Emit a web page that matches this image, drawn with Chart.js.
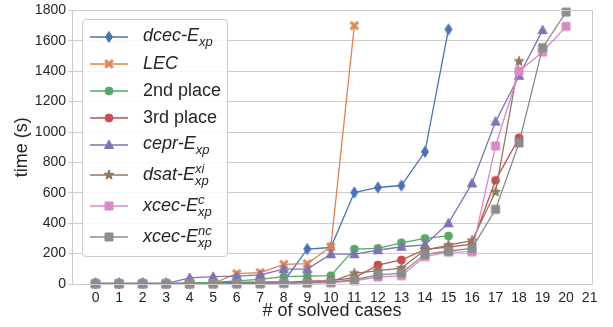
<!DOCTYPE html>
<html>
<head>
<meta charset="utf-8">
<script src="https://cdn.jsdelivr.net/npm/chart.js"></script>
<style>
  body { margin: 0; background: #fff; }
  #wrap { position: relative; width: 613px; height: 327px; font-family: 'Liberation Sans', Arial, sans-serif; }
  #legend {
    position: absolute; left: 82px; top: 19px; width: 146px; height: 238px;
    border: 1px solid #cccccc; border-radius: 4px; background: rgba(255,255,255,0.85);
    box-sizing: border-box; padding-top: 3px; color: #262626;
  }
  .row { display: flex; align-items: center; height: 27px; }
  .row.sub { height: 28px; }
  .row.stk { height: 31px; }
  .row canvas { margin-left: 6px; margin-right: 14px; }
  .lbl { font-size: 18px; white-space: nowrap; }
  .it { font-style: italic; }
  .sb { font-size: 13px; font-style: italic; vertical-align: -5px; }
  .ss { display: inline-block; font-size: 13px; font-style: italic; line-height: 12px; vertical-align: -5px; }
  .ss span { display: block; }
</style>
</head>
<body>
<div id="wrap">
  <canvas id="chart" width="613" height="327"></canvas>
  <div id="legend"></div>
</div>
<script>
// x = number of solved cases (index), values = time in seconds
const xTicks = [0,1,2,3,4,5,6,7,8,9,10,11,12,13,14,15,16,17,18,19,20,21];
const yTicks = [0,200,400,600,800,1000,1200,1400,1600,1800];

const dcec   = [5,5,5,5,5,8,10,12,15,230,240,602,635,648,870,1675];
const lec    = [2,2,2,2,3,4,68,75,129,134,245,1700];
const second = [1,1,1,1,8,10,20,30,48,52,55,230,235,271,300,316];
const third  = [0,0,0,0,0,1,3,5,10,18,22,40,125,158,228,242,262,682,962];
const cepr   = [2,2,2,2,40,48,52,60,98,98,196,196,222,245,258,400,662,1068,1370,1670];
const dsat   = [0,0,0,0,0,1,3,5,8,12,15,70,88,105,223,256,285,606,1465];
const xcecC  = [0,0,0,0,0,0,1,2,4,6,8,20,46,55,180,210,212,908,1400,1526,1695];
const xcecNc = [3,3,3,3,3,3,3,4,6,9,12,28,60,72,195,217,234,491,928,1555,1789];

const series = [
  { data: dcec,   color: '#4C72B0', shape: 'diamond',  kind: '',    html: '<span class="it">dcec-E</span><span class="sb">xp</span>' },
  { data: lec,    color: '#DD8452', shape: 'x',        kind: '',    html: '<span class="it">LEC</span>' },
  { data: second, color: '#55A868', shape: 'circle',   kind: '',    html: '2nd place' },
  { data: third,  color: '#C44E52', shape: 'circle',   kind: '',    html: '3rd place' },
  { data: cepr,   color: '#8172B3', shape: 'triangle', kind: 'sub', html: '<span class="it">cepr-E</span><span class="sb">xp</span>' },
  { data: dsat,   color: '#937860', shape: 'star',     kind: 'stk', html: '<span class="it">dsat-E</span><span class="ss"><span>xi</span><span>xp</span></span>' },
  { data: xcecC,  color: '#DA8BC3', shape: 'square',   kind: 'stk', html: '<span class="it">xcec-E</span><span class="ss"><span>c</span><span>xp</span></span>' },
  { data: xcecNc, color: '#8C8C8C', shape: 'square',   kind: 'stk', html: '<span class="it">xcec-E</span><span class="ss"><span>nc</span><span>xp</span></span>' }
];

function drawMarker(c, shape, x, y, color) {
  c.save();
  c.fillStyle = color;
  c.strokeStyle = color;
  c.lineWidth = 1;
  c.beginPath();
  if (shape === 'diamond') {
    c.moveTo(x, y - 5.5); c.lineTo(x + 3.5, y); c.lineTo(x, y + 5.5); c.lineTo(x - 3.5, y);
  } else if (shape === 'circle') {
    c.arc(x, y, 4, 0, Math.PI * 2);
  } else if (shape === 'triangle') {
    c.moveTo(x, y - 5); c.lineTo(x + 4.6, y + 3.5); c.lineTo(x - 4.6, y + 3.5);
  } else if (shape === 'square') {
    c.rect(x - 4, y - 4, 8, 8);
  } else if (shape === 'x') {
    const a = 4.3, w = 1.6;
    const pts = [[-a + w, -a], [0, -w], [a - w, -a], [a, -a + w], [w, 0], [a, a - w],
                 [a - w, a], [0, w], [-a + w, a], [-a, a - w], [-w, 0], [-a, -a + w]];
    pts.forEach((p, i) => i ? c.lineTo(x + p[0], y + p[1]) : c.moveTo(x + p[0], y + p[1]));
  } else if (shape === 'star') {
    for (let i = 0; i < 10; i++) {
      const r = i % 2 ? 2.2 : 5.2;
      const ang = -Math.PI / 2 + i * Math.PI / 5;
      const px = x + r * Math.cos(ang), py = y + r * Math.sin(ang);
      i ? c.lineTo(px, py) : c.moveTo(px, py);
    }
  }
  c.closePath();
  c.fill();
  c.stroke();
  c.restore();
}

function markerCanvas(shape, color) {
  const cv = document.createElement('canvas');
  cv.width = 16; cv.height = 16;
  drawMarker(cv.getContext('2d'), shape, 8, 8, color);
  return cv;
}

// legend (html, so the sub/superscripts stay real text)
const legendEl = document.getElementById('legend');
series.forEach(s => {
  const row = document.createElement('div');
  row.className = 'row ' + s.kind;
  const cv = document.createElement('canvas');
  cv.width = 40; cv.height = 16;
  const c = cv.getContext('2d');
  c.strokeStyle = s.color; c.lineWidth = 1.3;
  c.beginPath(); c.moveTo(1, 8); c.lineTo(39, 8); c.stroke();
  drawMarker(c, s.shape, 20, 8, s.color);
  const lbl = document.createElement('span');
  lbl.className = 'lbl';
  lbl.innerHTML = s.html;
  row.appendChild(cv);
  row.appendChild(lbl);
  legendEl.appendChild(row);
});

const frame = {
  id: 'frame',
  afterDraw(chart) {
    const a = chart.chartArea, c = chart.ctx;
    c.save();
    c.strokeStyle = '#cccccc';
    c.lineWidth = 1;
    c.strokeRect(Math.round(a.left) + 0.5, Math.round(a.top) + 0.5, Math.round(a.right - a.left), Math.round(a.bottom - a.top));
    c.restore();
  }
};

Chart.defaults.font.family = "'Liberation Sans', Arial, sans-serif";
Chart.defaults.color = '#262626';

new Chart(document.getElementById('chart'), {
  type: 'line',
  data: {
    datasets: series.map((s, i) => ({
      data: s.data.map((v, k) => ({ x: k, y: v })),
      borderColor: s.color,
      backgroundColor: s.color,
      borderWidth: 1.3,
      pointStyle: markerCanvas(s.shape, s.color),
      tension: 0,
      clip: false,
      order: series.length - i
    }))
  },
  options: {
    responsive: false,
    animation: false,
    layout: { padding: { top: 10, right: 21, left: 0, bottom: 0 } },
    plugins: { legend: { display: false }, tooltip: { enabled: false } },
    scales: {
      x: {
        type: 'linear',
        min: -1,
        max: 21.1,
        afterBuildTicks: s => { s.ticks = xTicks.map(v => ({ value: v })); },
        afterFit: s => { s.height = 43; },
        grid: { display: false, drawTicks: false },
        border: { display: true, color: '#cccccc' },
        ticks: { font: { size: 14 }, padding: 6, maxRotation: 0, autoSkip: false, callback: v => String(v) },
        title: { display: true, text: '# of solved cases', font: { size: 18 }, padding: { top: 0, bottom: 5 } }
      },
      y: {
        min: 0,
        max: 1800,
        afterBuildTicks: s => { s.ticks = yTicks.map(v => ({ value: v })); },
        afterFit: s => { s.width = 72; },
        grid: { color: '#cccccc', lineWidth: 1, drawTicks: true, tickLength: 4 },
        border: { display: true, color: '#cccccc' },
        ticks: { font: { size: 14 }, padding: 2, callback: v => String(v) },
        title: { display: true, text: 'time (s)', font: { size: 18 }, padding: { top: 11, bottom: 0 } }
      }
    }
  },
  plugins: [frame]
});
</script>
</body>
</html>
